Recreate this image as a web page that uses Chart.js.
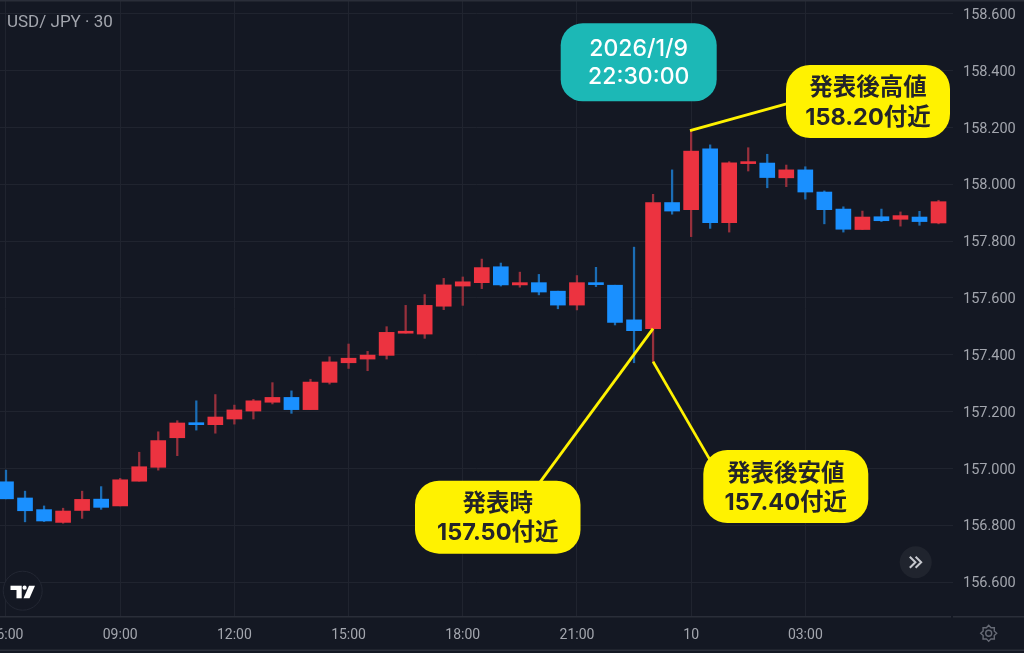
<!DOCTYPE html>
<html lang="ja">
<head>
<meta charset="utf-8">
<title>USD/JPY 30</title>
<script src="https://cdn.jsdelivr.net/npm/chart.js@4/dist/chart.umd.min.js"></script>
<style>
  html, body { margin: 0; padding: 0; background: #141823; overflow: hidden; }
  canvas { display: block; }
</style>
</head>
<body>
<canvas id="chart" width="1024" height="653"></canvas>
<script>
// 30 minute candles
const opens = [156.953,156.896,156.855,156.810,156.852,156.892,156.868,156.955,157.004,157.108,
  157.160,157.154,157.174,157.202,157.233,157.250,157.207,157.303,157.372,157.385,
  157.398,157.476,157.473,157.571,157.642,157.654,157.710,157.646,157.654,157.624,
  157.575,157.654,157.645,157.523,157.492,157.936,157.911,158.125,157.865,158.073,
  158.075,158.023,158.051,157.973,157.913,157.841,157.886,157.877,157.885,157.864];
const highs = [156.994,156.920,156.868,156.860,156.920,156.936,156.965,157.057,157.129,157.168,
  157.238,157.260,157.223,157.243,157.302,157.273,157.314,157.393,157.438,157.412,
  157.499,157.574,157.612,157.669,157.674,157.737,157.723,157.691,157.683,157.624,
  157.679,157.708,157.645,157.779,157.965,158.051,158.189,158.139,158.080,158.129,
  158.106,158.068,158.062,157.977,157.921,157.906,157.913,157.903,157.905,157.944];
const lows = [156.893,156.812,156.813,156.807,156.824,156.856,156.868,156.955,156.994,157.045,
  157.135,157.124,157.156,157.174,157.227,157.194,157.207,157.297,157.352,157.344,
  157.385,157.476,157.458,157.559,157.574,157.633,157.642,157.638,157.611,157.562,
  157.558,157.640,157.505,157.372,157.376,157.895,157.816,157.845,157.832,158.047,
  157.988,157.992,157.948,157.861,157.832,157.841,157.869,157.853,157.856,157.861];
const closes = [156.893,156.851,156.815,156.850,156.891,156.863,156.960,157.006,157.098,157.160,
  157.154,157.181,157.206,157.238,157.250,157.207,157.304,157.375,157.388,157.399,
  157.479,157.481,157.574,157.646,157.657,157.707,157.646,157.654,157.621,157.575,
  157.654,157.647,157.514,157.485,157.936,157.906,158.117,157.865,158.076,158.076,
  158.024,158.051,157.973,157.911,157.842,157.885,157.872,157.890,157.869,157.939];

const priceTicks = [158.6,158.4,158.2,158.0,157.8,157.6,157.4,157.2,157.0,156.8,156.6];
const timeTickIndexes = [0,6,12,18,24,30,36,42];
const timeTickLabels = ['06:00','09:00','12:00','15:00','18:00','21:00','10','03:00'];

// leader lines, [candle index, price]
const highLeader = [[35.94,158.189],[41.2,158.287]];
const releaseLeader = [[34,157.492],[28.06,156.952]];
const lowLeader = [[34,157.376],[36.99,157.03]];

const colors = {
  bg: '#141823', grid: '#20242f', frame: '#2a2e39', text: '#a3a6ae',
  up: '#ec3340', down: '#1a90ff', upWick: '#97303c', downWick: '#1b6db5',
  yellow: '#fff200', teal: '#1cb8b6', ink: '#23242a'
};

const calloutFont = '700 23.5px Inter, "Noto Sans CJK JP"';
const dateFont = '500 23px Inter, "Noto Sans CJK JP"';
const callouts = [
  { x: 560.7, y: 23.3, w: 156, h: 78, r: 22, fill: colors.teal, color: '#ffffff',
    lines: ['2026/1/9', '22:30:00'], ys: [49, 77], font: dateFont },
  { x: 786, y: 65, w: 164, h: 73, r: 24, fill: colors.yellow, color: colors.ink,
    lines: ['発表後高値', '158.20付近'], ys: [88, 117.5], font: calloutFont },
  { x: 415, y: 480.7, w: 165.5, h: 73, r: 24, fill: colors.yellow, color: colors.ink,
    lines: ['発表時', '157.50付近'], ys: [503.5, 533], font: calloutFont },
  { x: 703.3, y: 450, w: 165, h: 73, r: 24, fill: colors.yellow, color: colors.ink,
    lines: ['発表後安値', '157.40付近'], ys: [473.5, 502.5], font: calloutFont }
];

const indexes = opens.map((v, i) => i);
const isUp = i => closes[i] > opens[i];

function leaderDataset(points) {
  return {
    type: 'line',
    data: points.map(p => ({ x: p[0], y: p[1] })),
    borderColor: colors.yellow,
    borderWidth: 2.8,
    pointRadius: 0,
    order: 0
  };
}

// background, frame lines and the small icons
const chrome = {
  id: 'chrome',
  beforeDraw(chart) {
    const c = chart.ctx;
    c.fillStyle = colors.bg;
    c.fillRect(0, 0, 1024, 653);
  },
  afterDatasetsDraw(chart) {
    const c = chart.ctx;
    c.save();
    c.fillStyle = colors.frame;
    c.fillRect(0, 0, 1024, 1.5);
    c.fillRect(0, 616, 951, 1.5);
    c.fillRect(953, 616, 71, 1.5);
    c.fillRect(0, 649.5, 1024, 1.5);

    c.fillStyle = colors.text;
    c.font = '17px Roboto';
    c.textAlign = 'left';
    c.textBaseline = 'middle';
    c.fillText('USD/ JPY · 30', 7, 22.5);

    // TradingView mark
    c.strokeStyle = '#232733';
    c.lineWidth = 1;
    c.fillStyle = colors.bg;
    c.beginPath();
    c.arc(22.7, 590.7, 19.5, 0, Math.PI * 2);
    c.fill();
    c.stroke();
    c.fillStyle = '#ffffff';
    c.fillRect(10.5, 585.7, 11.2, 4.3);
    c.fillRect(16.5, 590, 5.2, 8.3);
    c.beginPath();
    c.arc(24.6, 587.7, 2.1, 0, Math.PI * 2);
    c.fill();
    c.beginPath();
    c.moveTo(29, 585.7);
    c.lineTo(35, 585.7);
    c.lineTo(29.5, 598.3);
    c.lineTo(23.5, 598.3);
    c.closePath();
    c.fill();

    // scroll button
    c.fillStyle = '#20242e';
    c.beginPath();
    c.arc(915.7, 562.3, 16, 0, Math.PI * 2);
    c.fill();
    c.strokeStyle = '#c6c8ce';
    c.lineWidth = 2;
    [909.8, 915.6].forEach(x => {
      c.beginPath();
      c.moveTo(x, 556.8);
      c.lineTo(x + 5.6, 562.3);
      c.lineTo(x, 567.8);
      c.stroke();
    });

    // settings gear
    c.strokeStyle = '#666a75';
    c.lineWidth = 1.4;
    c.beginPath();
    for (let i = 0; i < 16; i++) {
      const a = i * Math.PI / 8;
      const r = i % 2 ? 6 : 8;
      c[i ? 'lineTo' : 'moveTo'](988.7 + r * Math.cos(a), 633.3 + r * Math.sin(a));
    }
    c.closePath();
    c.stroke();
    c.beginPath();
    c.arc(988.7, 633.3, 3, 0, Math.PI * 2);
    c.stroke();

    // callouts
    c.textAlign = 'center';
    callouts.forEach(b => {
      c.fillStyle = b.fill;
      c.beginPath();
      c.roundRect(b.x, b.y, b.w, b.h, b.r);
      c.fill();
      c.fillStyle = b.color;
      c.font = b.font;
      b.lines.forEach((t, i) => c.fillText(t, b.x + b.w / 2, b.ys[i]));
    });
    c.restore();
  }
};

new Chart(document.getElementById('chart'), {
  data: {
    datasets: [
      leaderDataset(highLeader),
      leaderDataset(releaseLeader),
      leaderDataset(lowLeader),
      {
        type: 'bar',
        data: indexes.map(i => ({ x: i, y: [opens[i], closes[i]] })),
        backgroundColor: indexes.map(i => isUp(i) ? colors.up : colors.down),
        barThickness: 15,
        minBarLength: 2,
        grouped: false,
        order: 1
      },
      {
        type: 'bar',
        data: indexes.map(i => ({ x: i, y: [lows[i], highs[i]] })),
        backgroundColor: indexes.map(i => isUp(i) ? colors.upWick : colors.downWick),
        barThickness: 1.6,
        grouped: false,
        order: 2
      }
    ]
  },
  options: {
    responsive: false,
    animation: false,
    devicePixelRatio: 1,
    layout: { padding: 0 },
    plugins: { legend: { display: false }, tooltip: { enabled: false } },
    scales: {
      x: {
        type: 'linear',
        offset: false,
        min: -0.315,
        max: 49.76,
        grid: { color: colors.grid, drawTicks: false, offset: false },
        border: { display: false },
        afterBuildTicks(scale) { scale.ticks = timeTickIndexes.map(v => ({ value: v })); },
        afterFit(scale) { scale.height = 36; scale.paddingLeft = 0; scale.paddingRight = 0; },
        ticks: {
          autoSkip: false,
          maxRotation: 0,
          padding: 10,
          color: colors.text,
          font: { family: 'Roboto', size: 14 },
          callback(v) { return timeTickLabels[timeTickIndexes.indexOf(v)]; }
        }
      },
      y: {
        position: 'right',
        min: 156.477,
        max: 158.649,
        grid: { color: colors.grid, drawTicks: false },
        border: { display: false },
        afterBuildTicks(scale) { scale.ticks = priceTicks.map(v => ({ value: v })); },
        afterFit(scale) { scale.width = 71; scale.paddingTop = 0; scale.paddingBottom = 0; },
        ticks: {
          padding: 10,
          labelOffset: 1.5,
          color: colors.text,
          font: { family: 'Roboto', size: 14.5 },
          callback(v) { return v.toFixed(3); }
        }
      }
    }
  },
  plugins: [chrome]
});
</script>
</body>
</html>
